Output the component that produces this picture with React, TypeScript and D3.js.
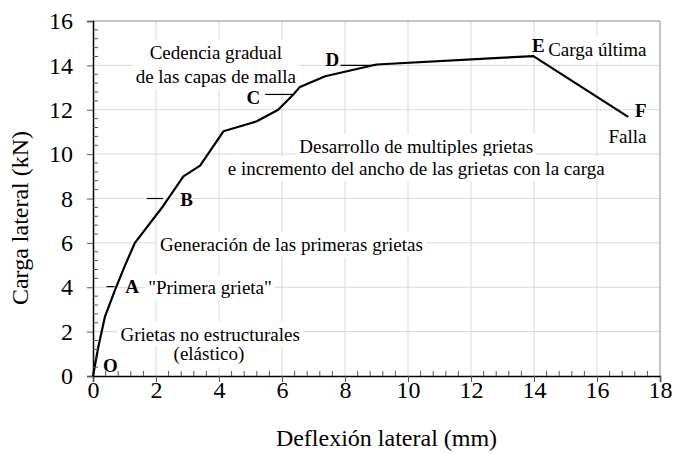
import React, { useEffect, useRef } from 'react'
import * as d3 from 'd3'

// curva carga-deflexion
const deflexion = [0, 0.17, 0.38, 0.7, 1.0, 1.33, 2.18, 2.87, 3.4, 4.14, 5.2, 5.88, 6.36, 6.57, 7.37, 9.0, 12.9, 13.98, 16.99]
const carga = [0, 1.32, 2.68, 3.88, 4.93, 6.0, 7.57, 9.0, 9.48, 11.03, 11.48, 12.0, 12.69, 13.03, 13.51, 14.04, 14.34, 14.42, 11.68]

const xTicks = [0, 2, 4, 6, 8, 10, 12, 14, 16, 18]
const yTicks = [0, 2, 4, 6, 8, 10, 12, 14, 16]

// marcas horizontales de los puntos A, B, C, D
const markNames = ['A', 'B', 'C', 'D']
const markLoad = [4.03, 8.0, 12.69, 14.0]
const markFrom = [0.43, 1.71, 5.46, 7.86]
const markTo = [0.68, 2.22, 6.35, 9.0]

const FONT = '"Liberation Serif", "Times New Roman", serif'

function App() {
  const ref = useRef<SVGSVGElement | null>(null)

  useEffect(() => {
    const svg = d3.select(ref.current)
    svg.selectAll('*').remove()

    const left = 93, right = 660, top = 21, bottom = 376

    const x = d3.scaleLinear().domain([0, 18]).range([left, right])
    const y = d3.scaleLinear().domain([0, 16]).range([bottom, top])

    // grid
    const grid = svg.append('g').attr('stroke', '#d9d9d9').attr('stroke-width', 1)
    xTicks.slice(1, -1).forEach(t => {
      grid.append('line').attr('x1', x(t)).attr('x2', x(t)).attr('y1', top).attr('y2', bottom)
    })
    yTicks.slice(1, -1).forEach(t => {
      grid.append('line').attr('x1', left).attr('x2', right).attr('y1', y(t)).attr('y2', y(t))
    })

    // annotations (white boxes over the grid)
    const notes = svg.append('g').attr('font-family', FONT).attr('fill', '#000')
    const note = (txt: string, xv: number, yv: number, anchor: string, bold = false, box = true) => {
      const g = notes.append('g')
      const t = g.append('text')
        .attr('x', x(xv)).attr('y', y(yv))
        .attr('text-anchor', anchor)
        .attr('font-size', 19)
        .attr('font-weight', bold ? 'bold' : 'normal')
        .text(txt)
      if (box) {
        const b = (t.node() as SVGTextElement).getBBox()
        g.insert('rect', 'text')
          .attr('x', b.x - 3).attr('y', b.y - 2)
          .attr('width', b.width + 6).attr('height', b.height + 4)
          .attr('fill', '#fff')
      }
    }

    note('Cedencia gradual', 3.9, 14.27, 'middle')
    note('de las capas de malla', 3.9, 13.19, 'middle')
    note('Desarrollo de multiples grietas', 10.26, 10.05, 'middle')
    note('e incremento del ancho de las grietas con la carga', 10.26, 9.06, 'middle')
    note('Generación de las primeras grietas', 2.13, 5.63, 'start')
    note('"Primera grieta"', 1.75, 3.7, 'start')
    note('Grietas no estructurales', 3.72, 1.6, 'middle')
    note('(elástico)', 3.68, 0.72, 'middle')
    note('Carga última', 14.45, 14.44, 'start')
    note('Falla', 16.97, 10.49, 'middle')

    // letters
    note('O', 0.55, 0.19, 'middle', true, false)
    note('A', 1.24, 3.72, 'middle', true, false)
    note('B', 2.97, 7.66, 'middle', true, false)
    note('C', 5.09, 12.28, 'middle', true, false)
    note('D', 7.6, 13.97, 'middle', true, false)
    note('E', 14.14, 14.61, 'middle', true, false)
    note('F', 17.39, 11.66, 'middle', true, false)

    // plot border (top/right)
    svg.append('path')
      .attr('d', `M${left},${top}H${right}V${bottom}`)
      .attr('fill', 'none').attr('stroke', '#8c8c8c').attr('stroke-width', 1)

    // marks
    const marks = svg.append('g').attr('stroke', '#000').attr('stroke-width', 1.2)
    markNames.forEach((_, i) => {
      marks.append('line')
        .attr('x1', x(markFrom[i])).attr('x2', x(markTo[i]))
        .attr('y1', y(markLoad[i])).attr('y2', y(markLoad[i]))
    })

    // curve
    const pts = deflexion.map((d, i) => [d, carga[i]] as [number, number])
    const line = d3.line<[number, number]>().x(d => x(d[0])).y(d => y(d[1]))
    svg.append('path')
      .datum(pts)
      .attr('d', line)
      .attr('fill', 'none')
      .attr('stroke', '#000')
      .attr('stroke-width', 2.2)
      .attr('stroke-linejoin', 'round')

    // axes
    const minor = d3.range(0, 18.001, 0.4).filter(v => Math.abs(v / 2 - Math.round(v / 2)) > 0.01)
    const minorY = d3.range(0, 16.001, 0.4).filter(v => Math.abs(v / 2 - Math.round(v / 2)) > 0.01)

    const xAxis = svg.append('g').attr('transform', `translate(0,${bottom})`)
      .call(d3.axisBottom(x).tickValues(xTicks).tickSize(6).tickFormat(d3.format('d')))
    xAxis.select('.domain').attr('stroke', '#000').attr('stroke-width', 1.5)
    xAxis.selectAll('text').attr('font-family', FONT).attr('font-size', 24).attr('fill', '#000').attr('dy', '0.55em')
    xAxis.selectAll('.tick line').attr('stroke', '#555')
    xAxis.append('g').selectAll('line').data(minor).enter().append('line')
      .attr('x1', d => x(d)).attr('x2', d => x(d)).attr('y1', 0).attr('y2', -5)
      .attr('stroke', '#555')

    const yAxis = svg.append('g').attr('transform', `translate(${left},0)`)
      .call(d3.axisLeft(y).tickValues(yTicks).tickSize(6).tickPadding(14).tickFormat(d3.format('d')))
    yAxis.select('.domain').attr('stroke', '#000').attr('stroke-width', 1.5)
    yAxis.selectAll('text').attr('font-family', FONT).attr('font-size', 24).attr('fill', '#000')
    yAxis.selectAll('.tick line').attr('stroke', '#555')
    yAxis.append('g').selectAll('line').data(minorY).enter().append('line')
      .attr('x1', 0).attr('x2', 5).attr('y1', d => y(d)).attr('y2', d => y(d))
      .attr('stroke', '#555')

    // titles
    svg.append('text')
      .attr('x', (left + right) / 2 + 10).attr('y', 446)
      .attr('text-anchor', 'middle')
      .attr('font-family', FONT).attr('font-size', 24)
      .text('Deflexión lateral (mm)')

    svg.append('text')
      .attr('transform', `translate(28,218) rotate(-90)`)
      .attr('text-anchor', 'middle')
      .attr('font-family', FONT).attr('font-size', 24)
      .text('Carga lateral (kN)')
  }, [])

  return (
    <svg ref={ref} width={674} height={454} style={{ position: 'absolute', left: 0, top: 0, background: '#fff' }} />
  )
}

export default App
